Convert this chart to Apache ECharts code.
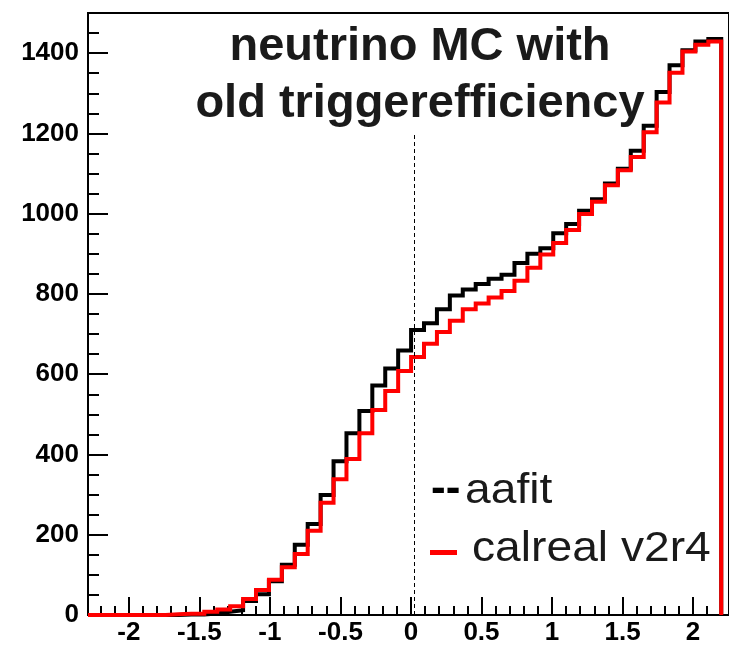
<!DOCTYPE html>
<html>
<head>
<meta charset="utf-8">
<script src="https://cdn.jsdelivr.net/npm/echarts@6/dist/echarts.min.js"></script>
<style>
html,body{margin:0;padding:0;background:#fff;}
#chart{width:729px;height:646px;}
</style>
</head>
<body>
<div id="chart"></div>
<script>
// Histogram binning (49 bins)
const histMin = -2.29;
const histMax = 2.2;
// Bin contents
const aafit = [0,0,0,0,0,0,0,1,1,4,8,12,35,52,84,125,175,227,299,383,453,508,572,614,659,710,727,762,796,811,825,838,848,877,900,914,951,974,1007,1036,1075,1112,1157,1219,1303,1370,1407,1429,1435];
const calreal = [0,0,0,0,0,0,2,3,3,8,14,22,40,62,88,119,152,210,280,338,389,453,511,558,608,643,676,705,733,762,776,791,807,833,865,898,927,959,999,1030,1071,1108,1141,1203,1277,1351,1404,1421,1429];
// Axis ranges and ticks
const xMin = -2.29, xMax = 2.255;
const yMin = 0, yMax = 1500;
const xTickLabels = [-2,-1.5,-1,-0.5,0,0.5,1,1.5,2];
const yTickLabels = [0,200,400,600,800,1000,1200,1400];
const xMinorStep = 0.1;
const yMinorStep = 50;
// dashed marker line
const dashX = 0.02;
const dashTop = 1200;

const nBins = aafit.length;
const bw = (histMax - histMin) / nBins;
function histPoints(vals){
  const pts = [];
  for (let i = 0; i < vals.length; i++) pts.push([histMin + i*bw, vals[i]]);
  pts.push([histMax, vals[vals.length-1]]);
  pts.push([histMax, 0]);
  return pts;
}
const xMinor = [];
for (let v = -2.2; v <= 2.2001; v += xMinorStep) xMinor.push(Math.round(v*10)/10);
const yMinor = [];
for (let v = 50; v <= 1450; v += yMinorStep) yMinor.push(v);

const chart = echarts.init(document.getElementById('chart'), null, {renderer:'canvas'});
const labelFont = {fontFamily:'Liberation Sans, Arial, sans-serif', fontWeight:'bold', fontSize:26, color:'#000'};
const tickStyle = {color:'#000', width:2};
chart.setOption({
  animation:false,
  backgroundColor:'#fff',
  grid:{left:88, top:13, right:-3, bottom:26, show:true, borderColor:'#000', borderWidth:2, backgroundColor:'transparent'},
  xAxis:[
    {type:'value', min:xMin, max:xMax, position:'bottom',
     axisLine:{show:true, onZero:false, lineStyle:{color:'#000', width:2}},
     axisTick:{show:true, inside:true, length:18, lineStyle:tickStyle, customValues:xTickLabels},
     axisLabel:Object.assign({show:true, margin:5, customValues:xTickLabels, formatter:v=>String(v)}, labelFont),
     splitLine:{show:false}},
    {type:'value', min:xMin, max:xMax, position:'bottom', gridIndex:0,
     axisLine:{show:false, onZero:false},
     axisTick:{show:true, inside:true, length:9, lineStyle:tickStyle, customValues:xMinor},
     axisLabel:{show:false}, splitLine:{show:false}}
  ],
  yAxis:[
    {type:'value', min:yMin, max:yMax, position:'left',
     axisLine:{show:true, onZero:false, lineStyle:{color:'#000', width:2}},
     axisTick:{show:true, inside:true, length:20, lineStyle:tickStyle, customValues:yTickLabels},
     axisLabel:Object.assign({show:true, margin:9, customValues:yTickLabels, formatter:v=>String(v)}, labelFont),
     splitLine:{show:false}},
    {type:'value', min:yMin, max:yMax, position:'left', gridIndex:0,
     axisLine:{show:false, onZero:false},
     axisTick:{show:true, inside:true, length:11, lineStyle:tickStyle, customValues:yMinor},
     axisLabel:{show:false}, splitLine:{show:false}}
  ],
  series:[
    {name:'aafit', type:'line', step:'end', symbol:'none', data:histPoints(aafit),
     lineStyle:{color:'#000', width:4, join:'miter'}, itemStyle:{color:'#000'},
     markLine:{silent:true, symbol:['none','none'], label:{show:false},
       lineStyle:{color:'#000', width:1, type:[4,3]},
       data:[[{coord:[dashX, 0]},{coord:[dashX, dashTop]}]]}},
    {name:'calreal v2r4', type:'line', step:'end', symbol:'none', data:histPoints(calreal),
     lineStyle:{color:'#ff0000', width:4, join:'miter'}, itemStyle:{color:'#ff0000'}}
  ],
  graphic:[
    {type:'text', x:420, y:47, style:{text:'neutrino MC with', fill:'#1a1a1a', font:'bold 47px "Liberation Sans", Arial, sans-serif', textAlign:'center', textVerticalAlign:'middle'}},
    {type:'text', x:420, y:104, style:{text:'old triggerefficiency', fill:'#1a1a1a', font:'bold 47px "Liberation Sans", Arial, sans-serif', textAlign:'center', textVerticalAlign:'middle'}},
    {type:'text', x:431, y:490, style:{text:'--', fill:'#000', font:'bold 44px "Liberation Sans", Arial, sans-serif', textAlign:'left', textVerticalAlign:'middle'}},
    {type:'text', x:465, y:491, scaleX:1.1, style:{text:'aafit', fill:'#1a1a1a', font:'42px "Liberation Sans", Arial, sans-serif', textAlign:'left', textVerticalAlign:'middle'}},
    {type:'rect', shape:{x:430, y:550, width:27, height:5}, style:{fill:'#ff0000'}},
    {type:'text', x:472, y:549, scaleX:1.1, style:{text:'calreal v2r4', fill:'#1a1a1a', font:'42px "Liberation Sans", Arial, sans-serif', textAlign:'left', textVerticalAlign:'middle'}}
  ]
});
</script>
</body>
</html>
